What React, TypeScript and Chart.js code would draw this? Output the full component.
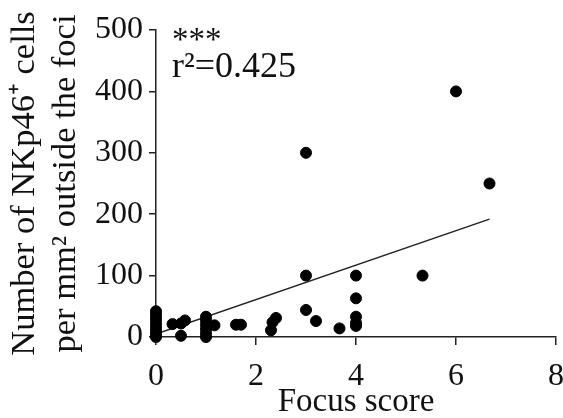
import React, { useEffect, useRef } from "react";
import { Chart, registerables } from "chart.js";

Chart.register(...registerables);

// Focus score (x) vs number of NKp46+ cells per mm² outside the foci (y)
const focusScore = [
  0, 0, 0, 0, 0, 0, 0, 0, 0,
  0.33, 0.5, 0.5, 0.58,
  1, 1, 1, 1, 1, 1, 1.17,
  1.6, 1.7,
  2.3, 2.33, 2.4,
  3, 3, 3, 3.2, 3.67,
  4, 4, 4, 4, 4,
  5.33, 6, 6.67,
];
const nkCells = [
  0, 4, 9, 14, 19, 25, 31, 37, 42,
  21, 2, 22, 27,
  0, 6, 13, 20, 27, 33, 19,
  20, 20,
  11, 24, 31,
  300, 100, 44, 26, 14,
  100, 63, 33, 23, 18,
  100, 400, 250,
];

// Regression line end points
const trendX = [0, 6.67];
const trendY = [5, 192];

const xTickValues = [0, 2, 4, 6, 8];
const yTickValues = [0, 100, 200, 300, 400, 500];

const xTitle = "Focus score";
const yTitle = ["Number of NKp46\u207A cells", "per mm\u00B2 outside the foci"];
const significance = "***";
const rSquared = "r\u00B2=0.425";

const FONT = "'Liberation Serif', 'Times New Roman', serif";

export default function App() {
  const canvasRef = useRef<HTMLCanvasElement | null>(null);

  useEffect(() => {
    const canvas = canvasRef.current;
    if (!canvas) return;

    const annotationPlugin = {
      id: "statsAnnotation",
      afterDraw(chart: any) {
        const { ctx, chartArea } = chart;
        ctx.save();
        ctx.fillStyle = "#111";
        ctx.textAlign = "left";
        ctx.textBaseline = "alphabetic";
        ctx.font = `33px ${FONT}`;
        ctx.fillText(significance, chartArea.left + 16, chartArea.top + 20);
        ctx.font = `36px ${FONT}`;
        ctx.fillText(rSquared, chartArea.left + 16, chartArea.top + 47);
        ctx.restore();
      },
    };

    const chart = new Chart(canvas, {
      type: "scatter",
      data: {
        datasets: [
          {
            type: "scatter",
            label: "data",
            data: focusScore.map((x, i) => ({ x, y: nkCells[i] })),
            backgroundColor: "#000",
            borderColor: "#000",
            pointRadius: 5.5,
            pointHoverRadius: 5.5,
            clip: false as any,
            order: 1,
          },
          {
            type: "line",
            label: "fit",
            data: trendX.map((x, i) => ({ x, y: trendY[i] })),
            borderColor: "#222",
            borderWidth: 1.5,
            pointRadius: 0,
            fill: false,
            showLine: true,
            order: 2,
          } as any,
        ],
      },
      plugins: [annotationPlugin],
      options: {
        animation: false,
        responsive: false,
        events: [],
        layout: { padding: { top: 30, right: 7, left: 0, bottom: 0 } },
        plugins: {
          legend: { display: false },
          tooltip: { enabled: false },
        },
        scales: {
          x: {
            type: "linear",
            position: "bottom",
            min: 0,
            max: 8,
            afterBuildTicks: (scale: any) => {
              scale.ticks = xTickValues.map((v) => ({ value: v }));
            },
            afterFit: (scale: any) => {
              scale.height = 81;
              scale.paddingLeft = 0;
              scale.paddingRight = 0;
            },
            grid: {
              drawOnChartArea: false,
              drawTicks: true,
              tickLength: 8,
              color: "#222",
              lineWidth: 1.5,
            },
            border: { color: "#222", width: 1.5 },
            ticks: {
              color: "#111",
              font: { family: FONT, size: 32, lineHeight: 1.0 },
              padding: 16,
              maxRotation: 0,
            },
            title: {
              display: true,
              text: xTitle,
              color: "#111",
              font: { family: FONT, size: 33, lineHeight: 0.95 },
              padding: { top: 0, bottom: 0 },
            },
          },
          y: {
            type: "linear",
            min: 0,
            max: 500,
            afterBuildTicks: (scale: any) => {
              scale.ticks = yTickValues.map((v) => ({ value: v }));
            },
            afterFit: (scale: any) => {
              scale.width = 156;
              scale.paddingTop = 0;
              scale.paddingBottom = 0;
            },
            grid: {
              drawOnChartArea: false,
              drawTicks: true,
              tickLength: 7,
              color: "#222",
              lineWidth: 1.5,
            },
            border: { color: "#222", width: 1.5 },
            ticks: {
              color: "#111",
              font: { family: FONT, size: 32, lineHeight: 1.0 },
              padding: 6,
            },
            title: {
              display: true,
              text: yTitle,
              color: "#111",
              font: { family: FONT, size: 34.5, lineHeight: 1.17 },
              padding: { top: 5, bottom: 0 },
            },
          },
        },
      },
    });

    return () => {
      chart.destroy();
    };
  }, []);

  return (
    <div style={{ position: "absolute", left: 0, top: 0, width: 563, height: 418, background: "#fff" }}>
      <canvas ref={canvasRef} width={563} height={418} style={{ display: "block", width: 563, height: 418 }} />
    </div>
  );
}
